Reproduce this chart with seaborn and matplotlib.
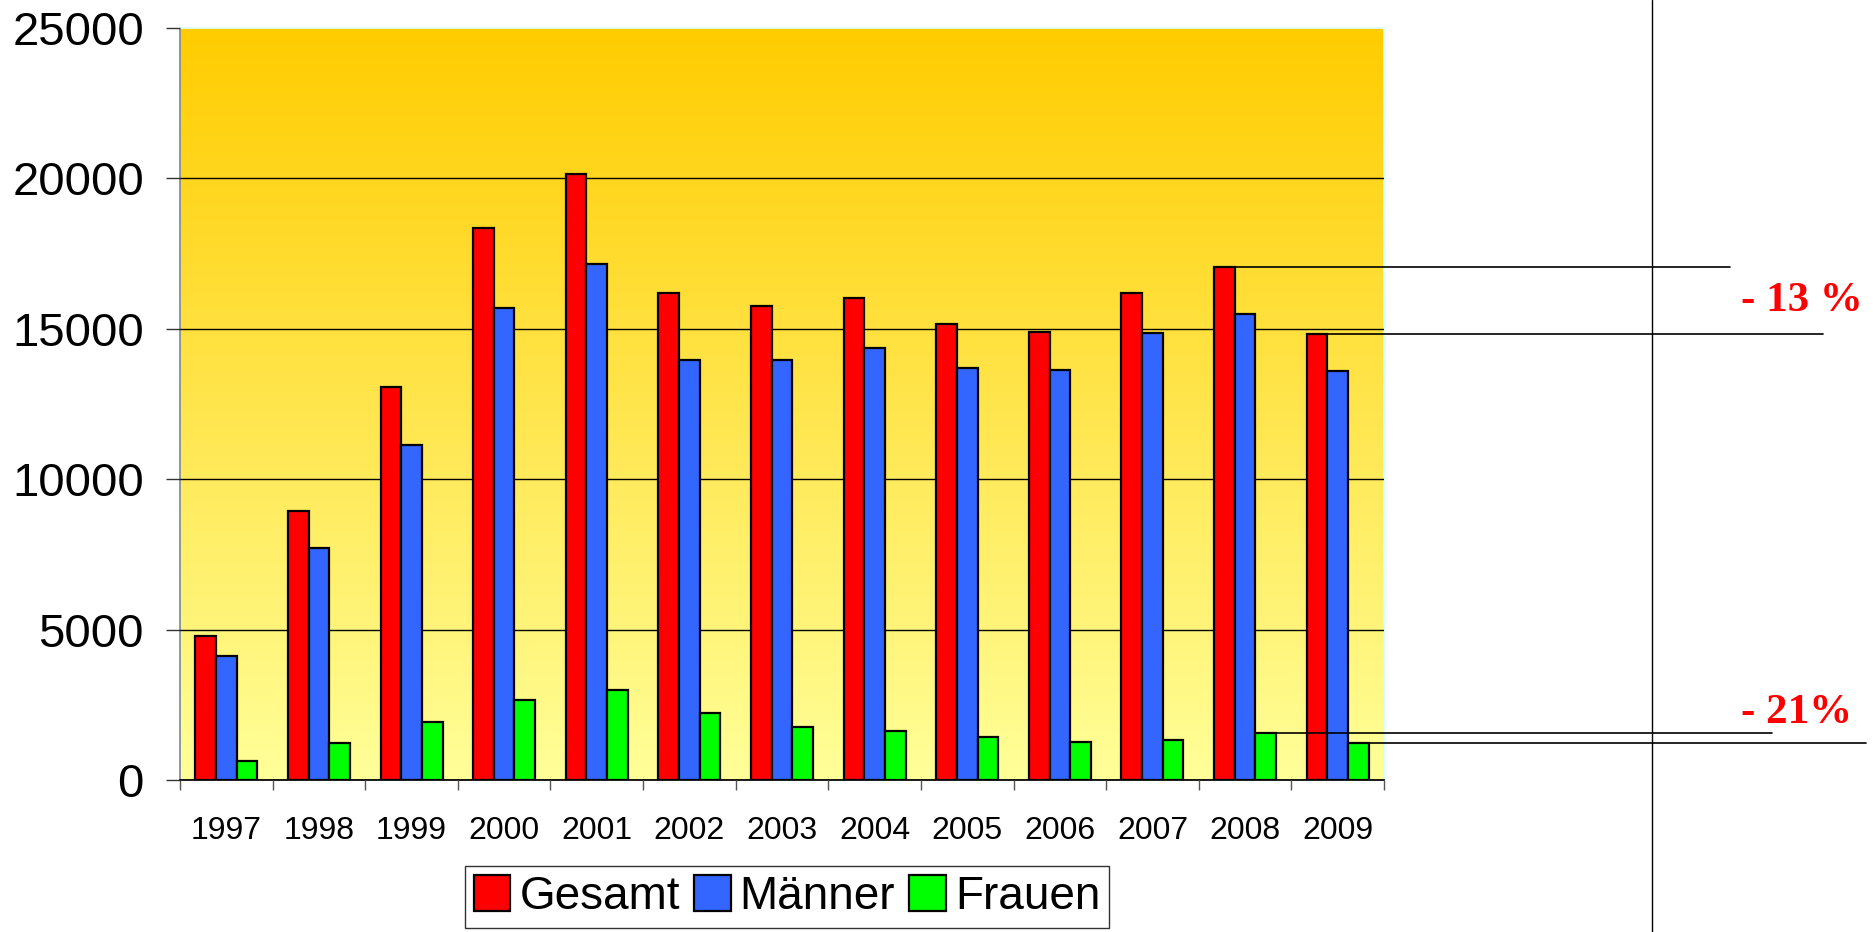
import numpy as np
import pandas as pd
import matplotlib.pyplot as plt
import seaborn as sns
from matplotlib.colors import LinearSegmentedColormap

sns.set_theme(style="ticks")
plt.rcParams["font.family"] = ["Liberation Sans", "DejaVu Sans"]
plt.rcParams["text.color"] = "black"
plt.rcParams["xtick.color"] = "black"
plt.rcParams["ytick.color"] = "black"

# Data
years   = ["1997", "1998", "1999", "2000", "2001", "2002", "2003",
           "2004", "2005", "2006", "2007", "2008", "2009"]
gesamt  = [4790, 8950, 13070, 18360, 20150, 16200, 15740,
           16010, 15140, 14900, 16180, 17040, 14830]
maenner = [4130, 7720, 11130, 15680, 17160, 13970, 13970,
           14370, 13680, 13610, 14860, 15490, 13600]
frauen  = [640, 1230, 1920, 2670, 2980, 2220, 1770,
           1640, 1440, 1270, 1330, 1550, 1220]
groups  = ["Gesamt", "Männer", "Frauen"]
colors  = ["#FF0000", "#3366FF", "#00FF00"]
y_ticks = [0, 5000, 10000, 15000, 20000, 25000]
notes   = ["- 13 %", "- 21%"]

df = pd.DataFrame({
    "year":  years * 3,
    "group": [g for g in groups for _ in years],
    "value": gesamt + maenner + frauen,
})

W, H = 1874, 932
fig = plt.figure(figsize=(W / 100, H / 100), dpi=100)
ax = fig.add_axes([180 / W, 1 - 780 / H, (1384 - 180) / W, (780 - 27.7) / H])

# gradient background
grad = LinearSegmentedColormap.from_list("bg", ["#FFFF99", "#FFCC00"])
ax.imshow(np.linspace(0, 1, 256).reshape(-1, 1), cmap=grad, origin="lower",
          aspect="auto", extent=[0, 1, 0, 1], transform=ax.transAxes, zorder=0)

BAR_W = 0.67
sns.barplot(data=df, x="year", y="value", hue="group", palette=colors,
            width=BAR_W, saturation=1, edgecolor="black", linewidth=1.6,
            ax=ax, zorder=3)

ax.set_xlim(-0.5, len(years) - 0.5)
ax.set_ylim(0, 25000)
ax.set_yticks(y_ticks)
ax.set_yticklabels([str(v) for v in y_ticks], fontsize=34)
ax.set_xlabel("")
ax.set_ylabel("")
ax.yaxis.grid(True, color="black", linewidth=1.0)
ax.set_axisbelow(False)
for ln in ax.get_ygridlines():
    ln.set_zorder(2)
ax.get_ygridlines()[-1].set_visible(False)   # no dark line at the top edge

# tick marks between groups, labels centred
ax.set_xticks(np.arange(-0.5, len(years), 1), minor=True)
ax.tick_params(axis="x", which="major", length=0, pad=26, labelsize=23)
ax.tick_params(axis="x", which="minor", length=7, width=1, color="#555555")
ax.tick_params(axis="y", length=10, width=1, pad=16, color="#333333")

ax.spines["left"].set_color("#7F8C99")
ax.spines["bottom"].set_color("black")
ax.spines["top"].set_color("#DDFFFF")
ax.spines["right"].set_color("#CCFFFF")

# legend
handles, labels = ax.get_legend_handles_labels()
ax.get_legend().remove()
leg = fig.legend(handles, labels, loc="center", bbox_to_anchor=(787 / W, 1 - 897 / H),
                 ncol=3, fontsize=33, frameon=True, fancybox=False,
                 handlelength=0.8, handleheight=0.85, handletextpad=0.2,
                 columnspacing=0.3, borderpad=0.2, borderaxespad=0)
leg.get_frame().set_edgecolor("black")
leg.get_frame().set_linewidth(1.0)


# annotation lines from bar tops out to the right margin
def px_to_x(px):
    return -0.5 + len(years) * (px - 180) / (1384 - 180)


bw = BAR_W / 3
i08, i09 = years.index("2008"), years.index("2009")
lines = [
    (i08 - BAR_W / 2, gesamt[i08], 1730),
    (i09 - BAR_W / 2, gesamt[i09], 1823),
    (i08 - BAR_W / 2 + 2 * bw, frauen[i08], 1772),
    (i09 - BAR_W / 2 + 2 * bw, frauen[i09], 1866),
]
for x0, y0, end_px in lines:
    ax.plot([x0, px_to_x(end_px)], [y0, y0], color="black", linewidth=1.2,
            clip_on=False, zorder=6)

fig.add_artist(plt.Line2D([1652 / W, 1652 / W], [0, 1], color="black", linewidth=1.0))

fig.text(1741 / W, 1 - 311 / H, notes[0], color="#FF0000", fontsize=31,
         fontweight="bold", family=["Liberation Serif", "DejaVu Serif"], va="baseline")
fig.text(1741 / W, 1 - 723 / H, notes[1], color="#FF0000", fontsize=31,
         fontweight="bold", family=["Liberation Serif", "DejaVu Serif"], va="baseline")

plt.savefig("out.png", dpi=100)
plt.close()
